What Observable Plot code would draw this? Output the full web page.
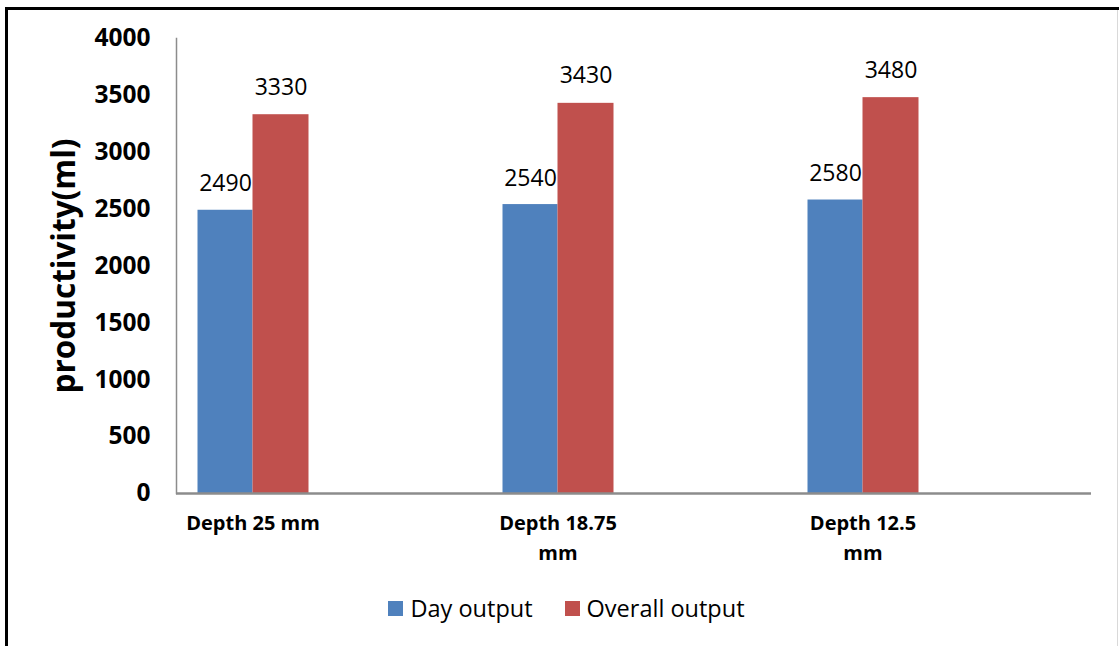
<!DOCTYPE html>
<html>
<head>
<meta charset="utf-8">
<script src="https://cdn.jsdelivr.net/npm/d3@7"></script>
<script src="https://cdn.jsdelivr.net/npm/@observablehq/plot@0.6"></script>
<style>
  html, body { margin: 0; padding: 0; background: #fff; }
  body { position: relative; width: 1119px; height: 646px; overflow: hidden; font-family: "Open Sans", sans-serif; }
  #chart { position: absolute; left: 0; top: 0; }
  .edge { position: absolute; }
  #edge-left { left: 5px; top: 7px; width: 3px; height: 639px; background: #000; }
  #edge-top { left: 5px; top: 7px; width: 1114px; height: 3px; background: #000; }
  #edge-right { left: 1117px; top: 10px; width: 1px; height: 636px; background: #d9d9d9; }
  #legend { position: absolute; left: 0; top: 594px; width: 1119px; display: flex; justify-content: center; padding-left: 14px; box-sizing: border-box;
            font-size: 23.5px; color: #000; line-height: 28px; }
  .item { display: flex; align-items: center; margin: 0 16px; }
  .swatch { width: 15px; height: 15px; margin-right: 7px; }
</style>
</head>
<body>
<div id="chart"></div>
<div id="legend"></div>
<div class="edge" id="edge-left"></div>
<div class="edge" id="edge-top"></div>
<div class="edge" id="edge-right"></div>
<script>
// Groove depth settings and measured productivity (ml)
const categories = ["Depth 25 mm", "Depth 18.75 mm", "Depth 12.5 mm"];
const categoryTickLabels = ["Depth 25 mm", "Depth 18.75\nmm", "Depth 12.5\nmm"];
const seriesNames = ["Day output", "Overall output"];
const dayOutput = [2490, 2540, 2580];
const overallOutput = [3330, 3430, 3480];
const yTicks = [0, 500, 1000, 1500, 2000, 2500, 3000, 3500, 4000];
const yTitle = "productivity(ml)";
const colors = ["#4F81BD", "#C0504D"];

const dayRows = categories.map((c, i) => ({category: c, series: seriesNames[0], value: dayOutput[i]}));
const overallRows = categories.map((c, i) => ({category: c, series: seriesNames[1], value: overallOutput[i]}));
const tickLabelOf = new Map(categories.map((c, i) => [c, categoryTickLabels[i]]));

const chart = Plot.plot({
  width: 1119,
  height: 585,
  marginLeft: 176,
  marginRight: 28,
  marginTop: 38,
  marginBottom: 92,
  style: {fontFamily: "'Open Sans', sans-serif", color: "#000", background: "transparent"},
  x: {domain: categories, range: [99.5, 1014.5], padding: 0, axis: null},
  y: {domain: [0, 4000], axis: null},
  marks: [
    Plot.barY(dayRows, {x: "category", y: "value", fill: colors[0], insetLeft: 97.5, insetRight: 152.5}),
    Plot.barY(overallRows, {x: "category", y: "value", fill: colors[1], insetLeft: 152.5, insetRight: 96.5}),
    Plot.text(dayRows, {x: "category", y: "value", text: d => String(d.value), dx: -27.5, dy: -19,
      lineAnchor: "bottom", fontSize: 23, fill: "#000"}),
    Plot.text(overallRows, {x: "category", y: "value", text: d => String(d.value), dx: 28, dy: -20,
      lineAnchor: "bottom", fontSize: 23, fill: "#000"}),
    Plot.frame({anchor: "left", stroke: "#8c8c8c", strokeWidth: 1.5}),
    Plot.ruleY([0], {stroke: "#8c8c8c", strokeWidth: 2.5}),
    Plot.axisY({ticks: yTicks, tickSize: 0, tickPadding: 26, fontSize: 24.5, fontWeight: "bold",
      tickFormat: d => String(d), label: null}),
    Plot.axisX({tickSize: 0, tickPadding: 15, fontSize: 20, fontWeight: "bold", lineHeight: 1.5,
      tickFormat: d => tickLabelOf.get(d), label: null}),
    Plot.text([yTitle], {frameAnchor: "left", textAnchor: "middle", rotate: -90, dx: -112, fontSize: 31.5,
      fontWeight: "bold", fill: "#000"})
  ]
});
document.getElementById("chart").appendChild(chart);

// Legend beneath the chart
const legend = d3.select("#legend");
seriesNames.forEach((name, i) => {
  const item = legend.append("div").attr("class", "item");
  item.append("div").attr("class", "swatch").style("background", colors[i]);
  item.append("span").text(name);
});
</script>
</body>
</html>
